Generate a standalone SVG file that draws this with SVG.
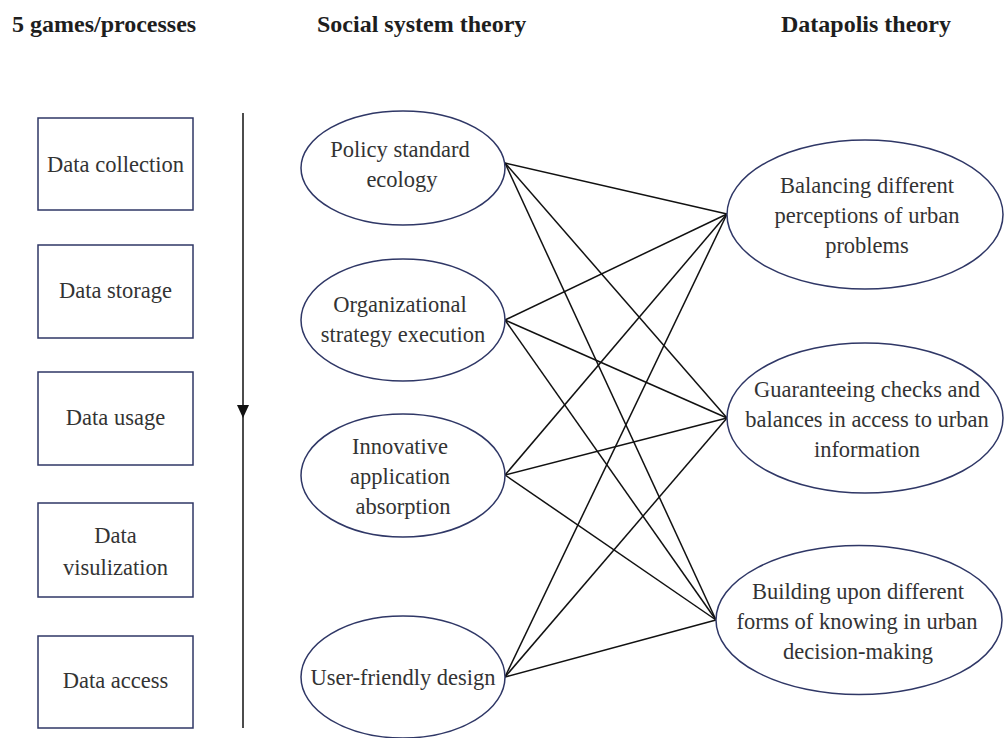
<svg xmlns="http://www.w3.org/2000/svg" width="1004" height="738" viewBox="0 0 1004 738">
  <style>
    text { font-family: 'Liberation Serif', Tinos, 'Times New Roman', Times, 'DejaVu Serif', serif; }
    .hdr { font-weight: bold; font-size: 24px; fill: #1e1e1e; }
    .lbl { font-size: 22.5px; fill: #333333; text-anchor: middle; }
    .box { fill: #ffffff; stroke: #2f3766; stroke-width: 1.5; }
    .oval { fill: #ffffff; stroke: #2f3766; stroke-width: 1.5; }
    .link { stroke: #111111; stroke-width: 1.5; fill: none; }
    .flow { stroke: #111111; stroke-width: 1.5; fill: none; }
  </style>
  <rect width="1004" height="738" fill="#ffffff"/>

  <!-- column headings -->
  <g id="headers">
    <text class="hdr" x="12" y="32" font-family="Liberation Serif, serif">5 games/processes</text>
    <text class="hdr" x="317" y="32" font-family="Liberation Serif, serif">Social system theory</text>
    <text class="hdr" x="781" y="32" font-family="Liberation Serif, serif">Datapolis theory</text>
  </g>

  <!-- process sequence arrow -->
  <g id="sequence-arrow">
    <line class="flow" x1="243" y1="113" x2="243" y2="728"/>
    <polygon points="237,405 249,405 243,418" fill="#111111"/>
  </g>

  <!-- connectors between the two theory columns -->
  <g id="connectors">
    <line class="link" x1="505" y1="163" x2="727" y2="214"/>
    <line class="link" x1="505" y1="163" x2="727" y2="418"/>
    <line class="link" x1="505" y1="163" x2="716" y2="620"/>
    <line class="link" x1="505" y1="320" x2="727" y2="214"/>
    <line class="link" x1="505" y1="320" x2="727" y2="418"/>
    <line class="link" x1="505" y1="320" x2="716" y2="620"/>
    <line class="link" x1="505" y1="475" x2="727" y2="214"/>
    <line class="link" x1="505" y1="475" x2="727" y2="418"/>
    <line class="link" x1="505" y1="475" x2="716" y2="620"/>
    <line class="link" x1="505" y1="677" x2="727" y2="214"/>
    <line class="link" x1="505" y1="677" x2="727" y2="418"/>
    <line class="link" x1="505" y1="677" x2="716" y2="620"/>
  </g>

  <!-- 5 games / processes -->
  <g id="data-collection">
    <rect class="box" x="38" y="118" width="155" height="92"/>
    <text class="lbl" x="115.5" y="172">Data collection</text>
  </g>
  <g id="data-storage">
    <rect class="box" x="38" y="245" width="155" height="93"/>
    <text class="lbl" x="115.5" y="298">Data storage</text>
  </g>
  <g id="data-usage">
    <rect class="box" x="38" y="372" width="155" height="93"/>
    <text class="lbl" x="115.5" y="425">Data usage</text>
  </g>
  <g id="data-visulization">
    <rect class="box" x="38" y="503" width="155" height="94"/>
    <text class="lbl" x="115.5" y="543">Data</text>
    <text class="lbl" x="115.5" y="575">visulization</text>
  </g>
  <g id="data-access">
    <rect class="box" x="38" y="636" width="155" height="92"/>
    <text class="lbl" x="115.5" y="688">Data access</text>
  </g>

  <!-- social system theory -->
  <g id="policy-standard-ecology">
    <ellipse class="oval" cx="403" cy="168" rx="102" ry="57"/>
    <text class="lbl" x="400" y="157">Policy standard</text>
    <text class="lbl" x="402" y="187">ecology</text>
  </g>
  <g id="organizational-strategy-execution">
    <ellipse class="oval" cx="403" cy="320" rx="102" ry="61"/>
    <text class="lbl" x="400" y="312">Organizational</text>
    <text class="lbl" x="403" y="342">strategy execution</text>
  </g>
  <g id="innovative-application-absorption">
    <ellipse class="oval" cx="403" cy="475.5" rx="102" ry="61.5"/>
    <text class="lbl" x="400" y="454">Innovative</text>
    <text class="lbl" x="400" y="484">application</text>
    <text class="lbl" x="403" y="514">absorption</text>
  </g>
  <g id="user-friendly-design">
    <ellipse class="oval" cx="403" cy="677" rx="102" ry="61"/>
    <text class="lbl" x="403" y="685">User-friendly design</text>
  </g>

  <!-- datapolis theory -->
  <g id="balancing-perceptions">
    <ellipse class="oval" cx="865" cy="214.5" rx="138" ry="74.5"/>
    <text class="lbl" x="867" y="193">Balancing different</text>
    <text class="lbl" x="867" y="223">perceptions of urban</text>
    <text class="lbl" x="867" y="253">problems</text>
  </g>
  <g id="guaranteeing-checks">
    <ellipse class="oval" cx="865" cy="418" rx="138" ry="75"/>
    <text class="lbl" x="867" y="397">Guaranteeing checks and</text>
    <text class="lbl" x="867" y="427">balances in access to urban</text>
    <text class="lbl" x="867" y="457">information</text>
  </g>
  <g id="building-forms-of-knowing">
    <ellipse class="oval" cx="859" cy="620" rx="143" ry="74.5"/>
    <text class="lbl" x="858" y="599">Building upon different</text>
    <text class="lbl" x="857" y="629">forms of knowing in urban</text>
    <text class="lbl" x="858" y="659">decision-making</text>
  </g>
</svg>
